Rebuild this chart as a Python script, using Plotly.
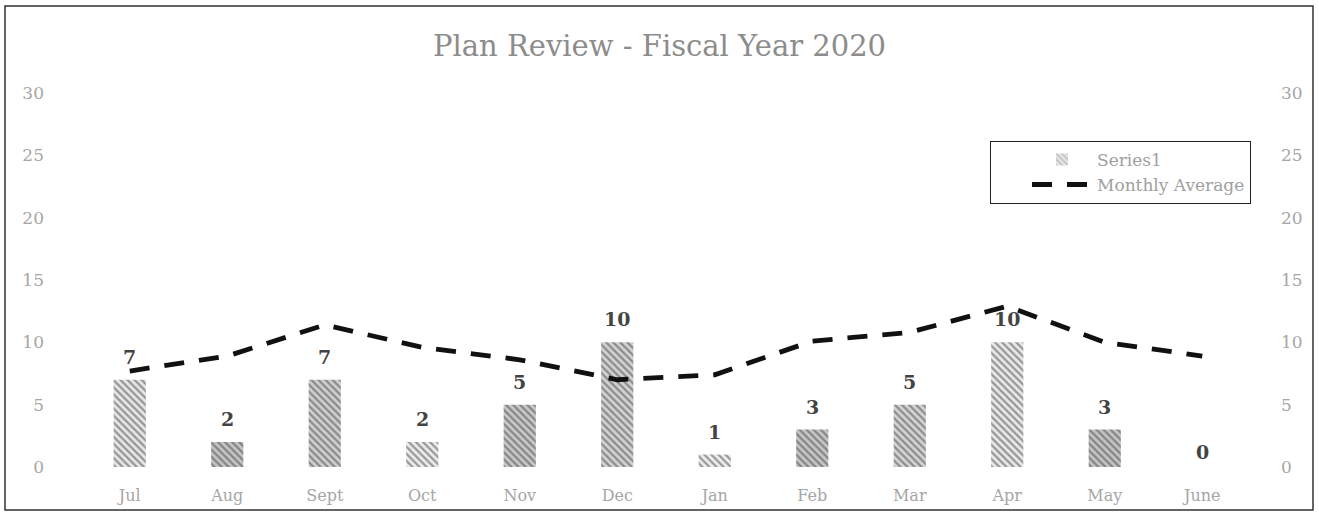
import plotly.graph_objects as go

months = ["Jul", "Aug", "Sept", "Oct", "Nov", "Dec", "Jan", "Feb", "Mar", "Apr", "May", "June"]
series1 = [7, 2, 7, 2, 5, 10, 1, 3, 5, 10, 3, 0]
monthly_average = [7.7, 8.9, 11.4, 9.6, 8.6, 7.0, 7.4, 10.1, 10.8, 12.9, 10.0, 8.9]
y_ticks = [0, 5, 10, 15, 20, 25, 30]

# hatch shades vary a little from bar to bar
hatch_fg = ["#9a9a9a", "#7a7a7a", "#858585", "#a5a5a5", "#7d7d7d", "#8a8a8a",
            "#a8a8a8", "#7d7d7d", "#8c8c8c", "#a0a0a0", "#7a7a7a", "#8a8a8a"]
hatch_bg = ["#e6e6e6", "#c4c4c4", "#cfcfcf", "#ececec", "#c8c8c8", "#d2d2d2",
            "#eeeeee", "#c6c6c6", "#d4d4d4", "#e8e8e8", "#c4c4c4", "#d2d2d2"]

SERIF = "DejaVu Serif"

fig = go.Figure()

fig.add_trace(go.Bar(
    x=months, y=series1, name="Series1",
    cliponaxis=False,
    marker=dict(color=hatch_bg, line=dict(width=0),
                pattern=dict(shape="\\", fgcolor=hatch_fg, bgcolor=hatch_bg,
                             size=5, solidity=0.45, fillmode="overlay")),
    width=0.33,
))

fig.add_trace(go.Scatter(
    x=months, y=monthly_average, name="Monthly Average", mode="lines",
    line=dict(color="#111111", width=4.8, dash="20px,15px"),
    yaxis="y2",
))

# value labels above each bar
for m, v in zip(months, series1):
    fig.add_annotation(
        x=m, y=v, text=str(v), showarrow=False, yanchor="middle",
        yshift=23 if v > 0 else 15,
        font=dict(family=SERIF, size=19, color="#444444", weight="bold"),
    )

axis_font = dict(family=SERIF, size=17, color="#a6a6a6")

fig.update_layout(
    width=1319, height=523,
    margin=dict(l=81, r=68, t=93, b=56),
    paper_bgcolor="white", plot_bgcolor="white",
    title=dict(text="Plan Review - Fiscal Year 2020", x=0.5, xanchor="center",
               y=0.913, yanchor="middle",
               font=dict(family=SERIF, size=29, color="#8c8c8c")),
    xaxis=dict(showgrid=False, showline=False, zeroline=False, ticks="",
               tickfont=dict(family=SERIF, size=16, color="#a6a6a6"),
               ticklabelstandoff=17),
    yaxis=dict(range=[0, 30], tickvals=y_ticks, showgrid=False, zeroline=False,
               showline=False, ticks="", tickfont=axis_font,
               ticklabelstandoff=36),
    yaxis2=dict(range=[0, 30], tickvals=y_ticks, overlaying="y", side="right",
                showgrid=False, zeroline=False, showline=False, ticks="",
                tickfont=axis_font, ticklabelstandoff=29),
    showlegend=True,
    legend=dict(x=1.0, xanchor="right", y=0.872, yanchor="top",
                bordercolor="#222222", borderwidth=1, bgcolor="white",
                font=dict(family=SERIF, size=17, color="#a0a0a0"),
                itemwidth=60, indentation=36),
    bargap=0.67,
    shapes=[dict(type="rect", xref="paper", yref="paper",
                 x0=-76 / 1170, x1=1 + 62 / 1170, y0=-43 / 374, y1=1 + 87 / 374,
                 line=dict(color="#333333", width=1.5), fillcolor="rgba(0,0,0,0)",
                 layer="below")],
)

fig.write_html("out.html")
